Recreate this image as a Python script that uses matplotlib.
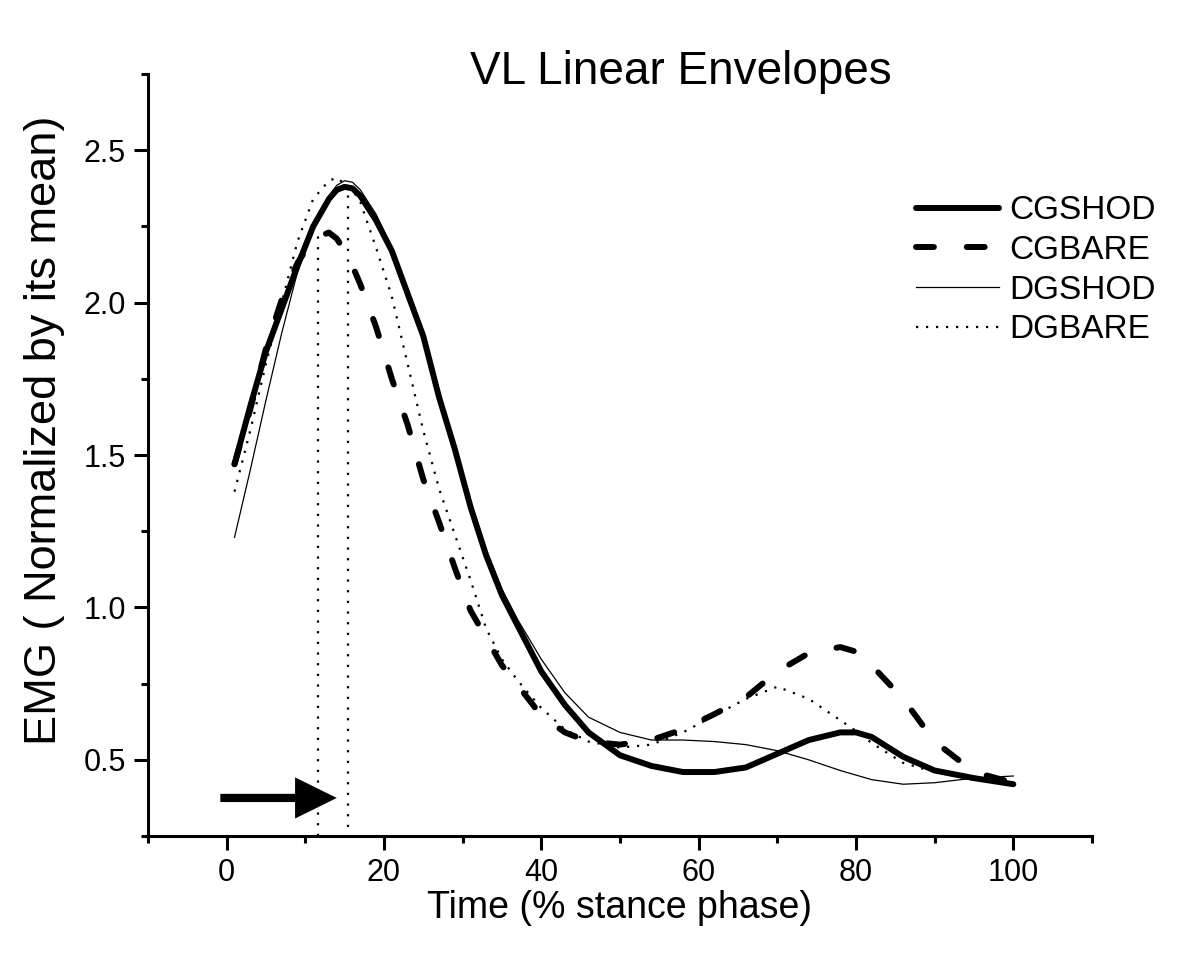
import matplotlib
matplotlib.use("Agg")
import matplotlib.pyplot as plt
from matplotlib.patches import FancyArrow
from matplotlib.ticker import MultipleLocator

plt.rcParams["font.family"] = ["Liberation Sans", "DejaVu Sans"]

# % stance phase sample points
X = [1, 3, 5, 7, 9, 11, 13, 14, 15, 16, 17, 19, 21, 23, 25, 27, 29, 31, 33, 35, 37,
     40, 43, 46, 50, 54, 58, 62, 66, 70, 74, 78, 80, 82, 86, 90, 95, 100]

CGSHOD = [1.47, 1.66, 1.84, 1.98, 2.12, 2.25, 2.34, 2.37, 2.38, 2.375, 2.35, 2.27,
          2.17, 2.03, 1.89, 1.69, 1.52, 1.33, 1.17, 1.04, 0.94, 0.79, 0.68, 0.59,
          0.515, 0.48, 0.46, 0.46, 0.475, 0.52, 0.565, 0.59, 0.59, 0.575, 0.51,
          0.465, 0.44, 0.42]
CGBARE = [1.47, 1.65, 1.85, 2.01, 2.13, 2.21, 2.23, 2.21, 2.17, 2.12, 2.06, 1.92,
          1.75, 1.60, 1.42, 1.28, 1.13, 0.99, 0.90, 0.81, 0.745, 0.645, 0.59, 0.56,
          0.55, 0.565, 0.60, 0.65, 0.705, 0.79, 0.85, 0.87, 0.855, 0.81, 0.70, 0.56,
          0.46, 0.425]
DGSHOD = [1.23, 1.45, 1.68, 1.90, 2.10, 2.25, 2.35, 2.385, 2.40, 2.395, 2.37, 2.29,
          2.18, 2.04, 1.89, 1.70, 1.53, 1.35, 1.19, 1.06, 0.96, 0.83, 0.72, 0.64,
          0.59, 0.565, 0.565, 0.56, 0.55, 0.53, 0.50, 0.465, 0.45, 0.435, 0.42,
          0.425, 0.44, 0.447]
DGBARE = [1.38, 1.58, 1.80, 2.00, 2.20, 2.34, 2.40, 2.41, 2.39, 2.37, 2.33, 2.18,
          2.02, 1.80, 1.58, 1.39, 1.24, 1.09, 0.93, 0.83, 0.76, 0.67, 0.60, 0.56,
          0.54, 0.55, 0.59, 0.645, 0.70, 0.74, 0.70, 0.63, 0.595, 0.555, 0.49,
          0.46, 0.435, 0.425]

# peak markers (x position, top of line)
PEAK_X = [11.6, 15.4]
PEAK_TOP = [2.22, 2.38]
PEAK_BOTTOM = [0.25, 0.28]

fig = plt.figure(figsize=(12, 9.76), dpi=100)
ax = fig.add_axes([0.1233, 0.1434, 0.7867, 0.7807])

ax.plot(X, CGSHOD, color="black", lw=4.3, solid_capstyle="round",
        solid_joinstyle="round", label="CGSHOD")
ax.plot(X, CGBARE, color="black", lw=4.3, dashes=(3, 5.5), dash_capstyle="round",
        label="CGBARE")
ax.plot(X, DGSHOD, color="black", lw=0.9, label="DGSHOD")
ax.plot(X, DGBARE, color="black", lw=1.6, dashes=(1, 3.5), label="DGBARE")

ax.vlines(PEAK_X, PEAK_BOTTOM, PEAK_TOP, color="black", lw=1.6,
          linestyles=[(0, (1, 3.8))])

ax.add_patch(FancyArrow(-0.8, 0.375, 14.8, 0, width=0.027, head_width=0.135,
                        head_length=5.3, length_includes_head=True,
                        color="black", lw=0))

ax.set_xlim(-10, 110)
ax.set_ylim(0.25, 2.75)
ax.set_xticks([0, 20, 40, 60, 80, 100])
ax.xaxis.set_minor_locator(MultipleLocator(10))
ax.set_yticks([0.5, 1.0, 1.5, 2.0, 2.5])
ax.yaxis.set_minor_locator(MultipleLocator(0.25))
ax.spines["top"].set_visible(False)
ax.spines["right"].set_visible(False)
for s in ("left", "bottom"):
    ax.spines[s].set_linewidth(2.2)
ax.tick_params(which="major", direction="out", length=10, width=2.2, labelsize=22, pad=6)
ax.tick_params(which="minor", direction="out", length=5, width=2.2)

ax.set_xlabel("Time (% stance phase)", fontsize=27, labelpad=1)
ax.set_ylabel("EMG ( Normalized by its mean)", fontsize=32.5)
ax.yaxis.set_label_coords(-0.088, 0.533)
fig.text(0.5675, 0.926, "VL Linear Envelopes", fontsize=33, ha="center", va="center")

ax.legend(loc="upper left", bbox_to_anchor=(0.763, 0.80), bbox_transform=fig.transFigure,
          frameon=False, fontsize=24, handlelength=2.5, handletextpad=0.3,
          labelspacing=0.26, borderaxespad=0, borderpad=0)

fig.savefig("out.png", dpi=100)
